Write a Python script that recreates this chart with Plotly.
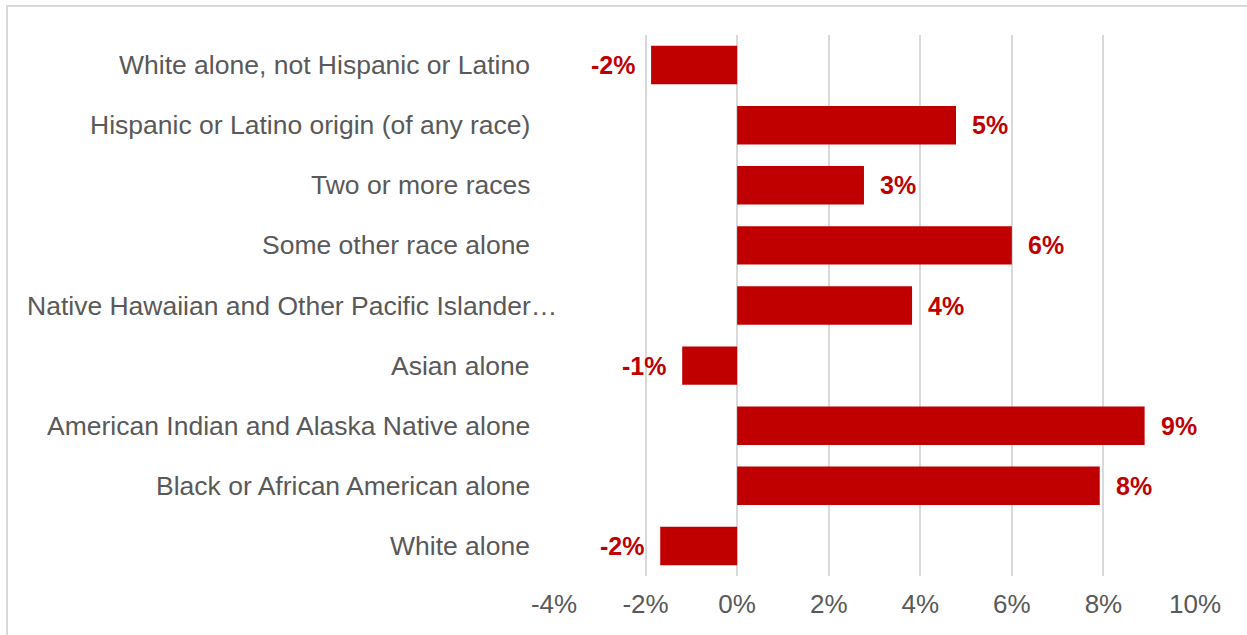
import plotly.graph_objects as go

categories = [
    "White alone",
    "Black or African American alone",
    "American Indian and Alaska Native alone",
    "Asian alone",
    "Native Hawaiian and Other Pacific Islander…",
    "Some other race alone",
    "Two or more races",
    "Hispanic or Latino origin (of any race)",
    "White alone, not Hispanic or Latino",
]
values = [-1.68, 7.92, 8.9, -1.2, 3.82, 6.0, 2.77, 4.78, -1.88]
value_labels = ["-2%", "8%", "9%", "-1%", "4%", "6%", "3%", "5%", "-2%"]
tick_vals = [-4, -2, 0, 2, 4, 6, 8, 10]
tick_text = ["-4%", "-2%", "0%", "2%", "4%", "6%", "8%", "10%"]

RED = "#C00000"
GREY = "#595959"
FONT = "Liberation Sans, Arial, sans-serif"

W, H = 1247, 635
L, R, T, B = 554, 52, 35, 59
pw, ph = W - L - R, H - T - B

fig = go.Figure()
fig.add_trace(go.Bar(
    x=values, y=categories, orientation="h",
    marker=dict(color=RED, line=dict(width=0)),
    hoverinfo="x+y",
))

annotations = []
for c, v, t in zip(categories, values, value_labels):
    annotations.append(dict(
        x=v, y=c, xref="x", yref="y", text=t, showarrow=False,
        xanchor="left" if v >= 0 else "right",
        xshift=14 if v >= 0 else -14,
        font=dict(family=FONT, size=25, color=RED, weight="bold"),
    ))
    annotations.append(dict(
        x=0, y=c, xref="paper", yref="y", text=c, showarrow=False,
        xanchor="right",
        xshift=5 if c.endswith("…") else -22,
        font=dict(family=FONT, size=26.5, color=GREY),
    ))

# outer chart border (pixel positions converted to paper coords)
bx0 = (7 - L) / pw
by1 = (H - B - 6) / ph

fig.update_layout(
    width=W, height=H,
    margin=dict(l=L, r=R, t=T, b=B),
    paper_bgcolor="white", plot_bgcolor="white",
    showlegend=False,
    bargap=0.36,
    annotations=annotations,
    xaxis=dict(
        range=[-4, 10.0001], tickvals=tick_vals, ticktext=tick_text,
        showgrid=True, gridcolor="#d9d9d9", gridwidth=2,
        zeroline=False, showline=False,
        tickfont=dict(family=FONT, size=26, color=GREY),
        ticklabelstandoff=10,
    ),
    yaxis=dict(
        categoryorder="array", categoryarray=categories,
        showticklabels=False, showgrid=False, zeroline=False, showline=False,
        range=[-0.5, 8.5],
    ),
    shapes=[dict(
        type="rect", xref="paper", yref="paper",
        x0=bx0, x1=1.2, y0=-0.3, y1=by1,
        line=dict(color="#d9d9d9", width=2), fillcolor="rgba(0,0,0,0)",
        layer="below",
    )],
)

fig.write_html(
    "out.html",
    config={"displayModeBar": False},
    post_script="document.body.style.margin='0px';document.body.style.overflow='hidden';",
)
